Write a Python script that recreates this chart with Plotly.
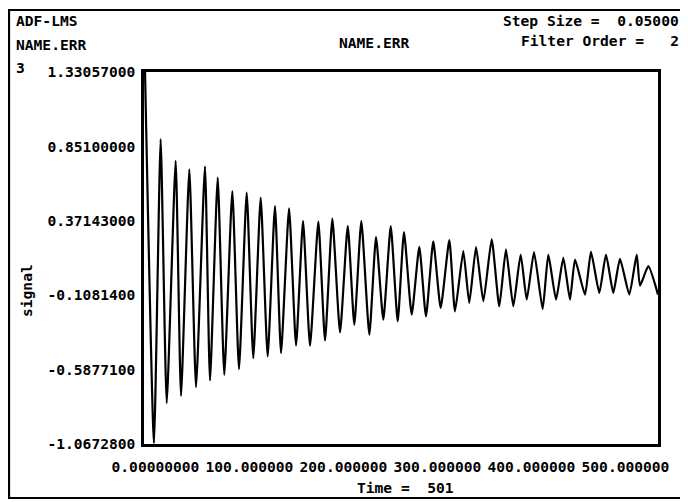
import plotly.graph_objects as go

# ---- data (extremes of each half-cycle) ----
time_pts = [1, 9.7, 16.2, 22.1, 30.8, 36.0, 44.1, 50.6, 59.3, 64.2, 71.7, 78.1, 85.9, 92.4,
            99.9, 106.3, 113.5, 120.3, 127.4, 133.3, 141.1, 147.9, 154.7, 161.5, 169.6, 176.1,
            183.2, 190.7, 198.2, 204.6, 211.4, 219.2, 225.7, 232.8, 240.0, 246.8, 252.9, 260.4,
            267.8, 274.3, 281.4, 288.6, 297.0, 302.5, 310.6, 316.4, 323.0, 330.1, 338.2, 345.6,
            352.1, 359.2, 366.4, 372.3, 379.4, 387.8, 393.3, 400.8, 407.9, 414.4, 419.3, 429.0,
            434.8, 442.9, 449.4, 456.5, 463.0, 472.1, 479.3, 482.5, 490.6, 500]
signal_vals = [1.33, -1.0608, 0.8975, -0.8042, 0.7573, -0.7570, 0.7037, -0.7008, 0.7211, -0.6581,
               0.6500, -0.6213, 0.5634, -0.5845, 0.5531, -0.5134, 0.5208, -0.5030, 0.4665, -0.4810,
               0.4516, -0.4319, 0.3695, -0.4339, 0.3656, -0.3996, 0.3850, -0.3479, 0.3372, -0.2981,
               0.3695, -0.3628, 0.2661, -0.2658, 0.3372, -0.2768, 0.2984, -0.2335, 0.2028, -0.2445,
               0.2383, -0.1902, 0.2467, -0.2122, 0.1756, -0.1579, 0.2015, -0.1475, 0.2512, -0.1798,
               0.1866, -0.1798, 0.1543, -0.1365, 0.1692, -0.1967, 0.1543, -0.1365, 0.1330, -0.1365,
               0.1220, -0.1042, 0.1717, -0.0932, 0.1543, -0.0932, 0.1265, -0.1042, 0.1543, -0.0461,
               0.0787, -0.1042]

ytick_vals = [1.33057, 0.851, 0.37143, -0.10814, -0.58771, -1.06728]
ytick_text = ["1.33057000", "0.85100000", "0.37143000", "-0.1081400", "-0.5877100", "-1.0672800"]
xtick_vals = [0, 100, 200, 300, 400, 500]
xtick_text = ["0.00000000", "100.000000", "200.000000", "300.000000", "400.000000", "500.000000"]

FONT = "DejaVu Sans Mono, monospace"
FS = 14.6
NB = "\u00a0"

fig = go.Figure()
fig.add_trace(go.Scatter(x=time_pts, y=signal_vals, mode="lines",
                         line=dict(color="black", width=2.2, shape="spline", smoothing=0.5),
                         showlegend=False, hoverinfo="skip"))
# invisible trace to host the labelled time axis
fig.add_trace(go.Scatter(x=[xtick_vals[0], xtick_vals[-1]], y=[ytick_vals[0], ytick_vals[0]],
                         xaxis="x2", mode="lines", line=dict(width=0), opacity=0,
                         showlegend=False, hoverinfo="skip"))

# page body has an 8px default margin, so the figure is 8px smaller on each axis
fig.update_layout(
    width=680, height=494,
    margin=dict(l=136, r=30, t=64, b=58, autoexpand=False),
    paper_bgcolor="white", plot_bgcolor="white",
    font=dict(family=FONT, size=FS, color="black"),
    xaxis=dict(range=[0, 500], showgrid=False, zeroline=False, showticklabels=False,
               showline=True, mirror=True, linecolor="black", linewidth=2.5, ticks="",
               automargin=False),
    xaxis2=dict(range=[-12.2, 534.6], overlaying="x", anchor="y", side="bottom",
                showgrid=False, zeroline=False, showline=False, ticks="", tickangle=0,
                tickvals=xtick_vals, ticktext=xtick_text, ticklabelstandoff=12,
                automargin=False,
                tickfont=dict(family=FONT, size=FS, weight="bold")),
    yaxis=dict(range=[ytick_vals[-1], ytick_vals[0]], showgrid=False, zeroline=False,
               showline=True, mirror=True, linecolor="black", linewidth=2.5, ticks="",
               tickvals=ytick_vals, ticktext=ytick_text, ticklabelstandoff=3,
               automargin=False,
               tickfont=dict(family=FONT, size=FS, weight="bold")),
)

# outer frame
fig.add_shape(type="rect", xref="paper", yref="paper", x0=-0.2626, x1=1.09, y0=-0.1452, y1=1.1667,
              line=dict(color="black", width=2.2), fillcolor="rgba(0,0,0,0)", layer="below")

def ann(text, x, y, xa="left", angle=0, size=FS):
    fig.add_annotation(text=text, x=x, y=y, xref="paper", yref="paper", xanchor=xa,
                       yanchor="middle", showarrow=False, textangle=angle,
                       font=dict(family=FONT, size=size, weight="bold", color="black"))

ann("ADF-LMS", -0.2529, 1.1371)
ann("NAME.ERR", -0.2529, 1.0726)
ann("3", -0.2529, 1.0134)
ann("NAME.ERR", 0.4475, 1.0806, xa="center")
ann("Step Size =" + NB + NB + "0.05000", 1.0447, 1.1371, xa="right")
ann("Filter Order =" + NB * 3 + "2", 1.0447, 1.086, xa="right")
ann("Time =" + NB + NB + "501", 0.5078, -0.1156, xa="center")
ann("signal", -0.2276, 0.4113, xa="center", angle=-90, size=FS)

fig.write_html("out.html")
